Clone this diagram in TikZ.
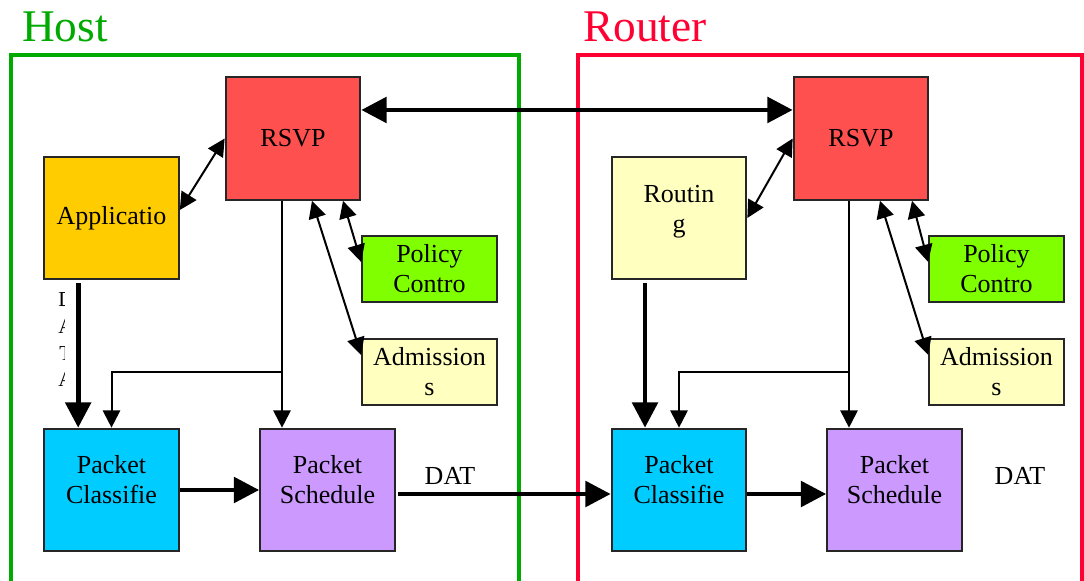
\documentclass[tikz,border=0pt]{standalone}
\usepackage{fontspec}
\setmainfont{Liberation Serif}
\usetikzlibrary{arrows.meta,calc}

\begin{document}
\begin{tikzpicture}[x=0.75pt,y=-0.75pt,
    box/.style={draw=black!85, line width=1.5pt, minimum width=101pt, minimum height=92pt,
      inner sep=0pt, align=center, font=\fontsize{19.5}{22.5}\selectfont},
    small/.style={box, minimum height=49.5pt},
    upper/.style 2 args={label={[align=center, font=\fontsize{19.5}{22.5}\selectfont, yshift=#1]center:#2}},
    thin/.style={line width=1.5pt, {Triangle[length=13pt,width=13pt]}-{Triangle[length=13pt,width=13pt]}},
    thinone/.style={line width=1.5pt, -{Triangle[length=13pt,width=13pt]}},
    thick/.style={line width=3.5pt, -{Triangle[length=19pt,width=19pt]}},
    lbl/.style={font=\fontsize{19.5}{22.5}\selectfont}]
    \useasboundingbox (0,0) rectangle (1084,581);

    % frames
    \draw[line width=2.5pt, draw={rgb,255:red,0;green,170;blue,0}] (11,590) |- (519,55) -- (519,590);
    \draw[line width=2.5pt, draw={rgb,255:red,255;green,0;blue,51}] (578,590) |- (1082,55) -- (1082,590);
    \node[anchor=base west, font=\fontsize{34}{40}\selectfont, text={rgb,255:red,0;green,170;blue,0}, inner sep=0pt] (host) at (22,42) {Host};
    \node[anchor=base west, font=\fontsize{34}{40}\selectfont, text={rgb,255:red,255;green,0;blue,51}, inner sep=0pt] (router) at (583,42) {Router};

    % host side
    \node[box, fill={rgb,255:red,255;green,204;blue,0}] (app) at (111.5,218) {Applicatio};
    \node[box, fill={rgb,255:red,255;green,80;blue,80}] (rsvpH) at (293,138.5) {RSVP};
    \node[small, fill={rgb,255:red,128;green,255;blue,0}] (polH) at (429.5,269) {Policy\\Contro};
    \node[small, fill={rgb,255:red,255;green,255;blue,192}] (admH) at (429.5,371.5) {Admission\\s};
    \node[box, fill={rgb,255:red,0;green,204;blue,255}, upper={7.5pt}{Packet\\Classifie}] (clsH) at (111.5,490) {};
    \node[box, fill={rgb,255:red,204;green,153;blue,255}, upper={7.5pt}{Packet\\Schedule}] (schH) at (327.5,490) {};

    % router side
    \node[box, fill={rgb,255:red,255;green,80;blue,80}] (rsvpR) at (861,138.5) {RSVP};
    \node[box, fill={rgb,255:red,255;green,255;blue,192}, upper={5pt}{Routin\\g}] (rout) at (679,218) {};
    \node[small, fill={rgb,255:red,128;green,255;blue,0}] (polR) at (996.5,269) {Policy\\Contro};
    \node[small, fill={rgb,255:red,255;green,255;blue,192}] (admR) at (996.5,371.5) {Admission\\s};
    \node[box, fill={rgb,255:red,0;green,204;blue,255}, upper={7.5pt}{Packet\\Classifie}] (clsR) at (679,490) {};
    \node[box, fill={rgb,255:red,204;green,153;blue,255}, upper={7.5pt}{Packet\\Schedule}] (schR) at (894.5,490) {};

    % clipped DATA text
    \begin{scope}
      \clip (50,285) rectangle (64,395);
      \node[align=center, font=\fontsize{16}{20}\selectfont] (data) at (66,340) {D\\A\\T\\A};
    \end{scope}
    \node[lbl] (datH) at (450,476) {DAT};
    \node[lbl] (datR) at (1020,476) {DAT};

    % RSVP to RSVP
    \draw[line width=3.5pt, {Triangle[length=19pt,width=19pt]}-{Triangle[length=19pt,width=19pt]}]
      ([yshift=21.4pt]rsvpH.east) -- ([yshift=21.4pt]rsvpR.west);

    % host connectors
    \draw[thin] ([yshift=6pt]app.east) -- (rsvpH.west);
    \draw[thin] ([xshift=37.5pt]rsvpH.south) -- ([yshift=5.25pt]polH.west);
    \draw[thin] ([xshift=14.25pt]rsvpH.south) -- ([yshift=12.4pt]admH.west);
    \draw[thick] ([xshift=-25pt,yshift=-2pt]app.south) -- ([xshift=-25pt]clsH.north);
    \draw[thinone] ([xshift=-8.25pt]rsvpH.south) -- ([xshift=-8.25pt]rsvpH.south |- schH.north);
    \coordinate (brH) at ([xshift=-8.25pt]rsvpH.south |- admH.center);
    \draw[thinone] (brH) -| (clsH.north);
    \draw[thick] (clsH.east) -- (schH.west);
    \draw[thick] ([xshift=1.5pt,yshift=-3pt]schH.east) -- ([yshift=-3pt]clsR.west);

    % router connectors
    \draw[thin] (rout.east) -- (rsvpR.west);
    \draw[thin] ([xshift=38.25pt]rsvpR.south) -- ([yshift=5.25pt]polR.west);
    \draw[thin] ([xshift=14.25pt]rsvpR.south) -- ([yshift=12.4pt]admR.west);
    \draw[thick] ([xshift=-25.5pt,yshift=-2pt]rout.south) -- ([xshift=-25.5pt]clsR.north);
    \draw[thinone] ([xshift=-9pt]rsvpR.south) -- ([xshift=-9pt]rsvpR.south |- schR.north);
    \coordinate (brR) at ([xshift=-9pt]rsvpR.south |- admR.center);
    \draw[thinone] (brR) -| (clsR.north);
    \draw[thick] ([yshift=-3pt]clsR.east) -- ([yshift=-3pt]schR.west);
\end{tikzpicture}
\end{document}
